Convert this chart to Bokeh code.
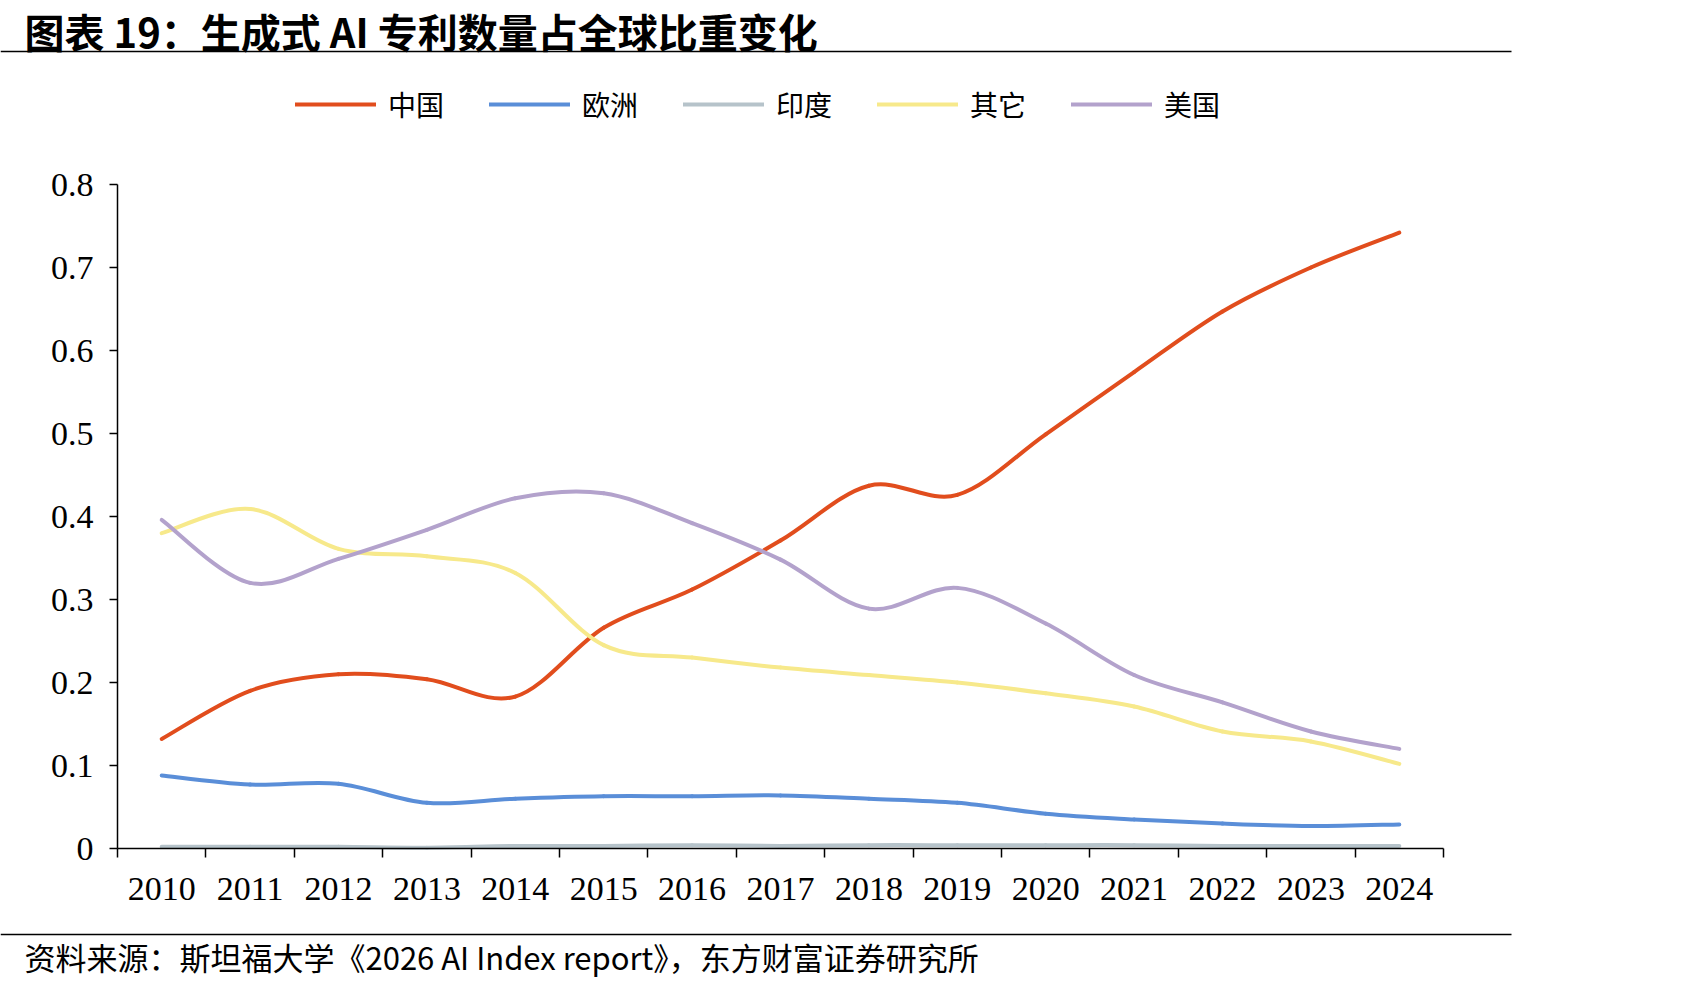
import numpy as np
from bokeh.plotting import figure
from bokeh.models import (Range1d, FixedTicker, LinearAxis, Legend, LegendItem,
                          NumeralTickFormatter, ColumnDataSource)
from bokeh.embed import file_html
from bokeh.resources import INLINE
from bokeh.core.properties import value

# ---------------- data ----------------
years = [2010, 2011, 2012, 2013, 2014, 2015, 2016, 2017, 2018, 2019, 2020, 2021, 2022, 2023, 2024]
china = [0.132, 0.190, 0.210, 0.204, 0.183, 0.266, 0.312, 0.371, 0.437, 0.426, 0.499, 0.574, 0.647, 0.700, 0.742]
europe = [0.088, 0.077, 0.078, 0.055, 0.060, 0.063, 0.063, 0.064, 0.060, 0.055, 0.042, 0.035, 0.030, 0.027, 0.029]
india = [0.002, 0.002, 0.002, 0.001, 0.003, 0.003, 0.004, 0.003, 0.004, 0.004, 0.004, 0.004, 0.003, 0.003, 0.003]
others = [0.380, 0.409, 0.361, 0.352, 0.332, 0.245, 0.230, 0.218, 0.209, 0.200, 0.187, 0.171, 0.141, 0.129, 0.102]
usa = [0.396, 0.320, 0.349, 0.384, 0.422, 0.428, 0.392, 0.348, 0.289, 0.314, 0.271, 0.209, 0.176, 0.141, 0.120]

series_names = ["中国", "欧洲", "印度", "其它", "美国"]
series_values = [china, europe, india, others, usa]
series_colors = ["#E14D1D", "#5A8ED8", "#B6C3CA", "#F7E98B", "#B3A2CC"]

y_ticks = [0, 0.1, 0.2, 0.3, 0.4, 0.5, 0.6, 0.7, 0.8]
x_labels = [str(y) for y in years]

title_text = "图表 19：生成式 AI 专利数量占全球比重变化"
source_text = "资料来源：斯坦福大学《2026 AI Index report》，东方财富证券研究所"

CJK = value("Noto Sans CJK SC")
SERIF = "Liberation Serif"

# ---------------- layout (pixels) ----------------
W, H = 1701, 988
AX_L, AX_R = 117, 1443      # x pixel of category-axis start / end
AX_TOP, AX_BOT = 184, 848   # y pixel of 0.8 / 0
X0, X1 = years[0] - 0.5, years[-1] + 0.5
Y0, Y1 = 0.0, 0.8
ux = (AX_R - AX_L) / (X1 - X0)
uy = (AX_BOT - AX_TOP) / (Y1 - Y0)
x_range = Range1d(X0 - AX_L / ux, X1 + (W - AX_R) / ux)
y_range = Range1d(Y0 - (H - AX_BOT) / uy, Y1 + AX_TOP / uy)

p = figure(width=W, height=H, x_range=x_range, y_range=y_range,
           toolbar_location=None, output_backend="svg",
           x_axis_type=None, y_axis_type=None, min_border=0)
p.min_border_left = p.min_border_right = p.min_border_top = p.min_border_bottom = 0
p.grid.visible = False
p.outline_line_color = None
p.background_fill_color = "#FFFFFF"
p.border_fill_color = "#FFFFFF"
p.extra_x_ranges = {"px": Range1d(0, W)}
p.extra_y_ranges = {"px": Range1d(H, 0)}


def smooth_segments(xs, ys):
    x = np.asarray(xs, dtype=float)
    y = np.asarray(ys, dtype=float)
    n = len(x)
    xp = np.concatenate([[x[0]], x, [x[-1]]])
    yp = np.concatenate([[y[0]], y, [y[-1]]])
    return dict(
        x0=x[:-1], y0=y[:-1], x1=x[1:], y1=y[1:],
        cx0=x[:-1] + (xp[2:n + 1] - xp[0:n - 1]) / 6.0,
        cy0=y[:-1] + (yp[2:n + 1] - yp[0:n - 1]) / 6.0,
        cx1=x[1:] - (xp[3:n + 2] - xp[1:n]) / 6.0,
        cy1=y[1:] - (yp[3:n + 2] - yp[1:n]) / 6.0,
    )


items = []
for name, vals, col in zip(series_names, series_values, series_colors):
    src = ColumnDataSource(smooth_segments(years, vals))
    r = p.bezier(x0="x0", y0="y0", x1="x1", y1="y1", cx0="cx0", cy0="cy0", cx1="cx1", cy1="cy1",
                 source=src, line_color=col, line_width=4, line_cap="round")
    items.append(LegendItem(label=name, renderers=[r]))

yaxis = LinearAxis(ticker=FixedTicker(ticks=y_ticks), formatter=NumeralTickFormatter(format="0.[0]"),
                   fixed_location=X0, bounds=(Y0, Y1),
                   axis_line_color="#000000", axis_line_width=1.5,
                   major_tick_line_color="#000000", major_tick_line_width=1.5,
                   major_tick_out=8, major_tick_in=0,
                   minor_tick_line_color=None,
                   major_label_standoff=16,
                   major_label_text_font=SERIF, major_label_text_font_size="34px",
                   major_label_text_color="#000000")
p.add_layout(yaxis, "left")

xaxis = LinearAxis(ticker=FixedTicker(ticks=years, minor_ticks=[y - 0.5 for y in years] + [years[-1] + 0.5]),
                   major_label_overrides={yr: lab for yr, lab in zip(years, x_labels)},
                   fixed_location=Y0, bounds=(X0, X1),
                   axis_line_color="#000000", axis_line_width=1.5,
                   major_tick_line_color=None, major_tick_out=0, major_tick_in=0,
                   minor_tick_line_color="#000000", minor_tick_line_width=1.5,
                   minor_tick_out=9, minor_tick_in=0,
                   major_label_standoff=20,
                   major_label_text_font=SERIF, major_label_text_font_size="34px",
                   major_label_text_color="#000000")
p.add_layout(xaxis, "below")

legend = Legend(items=items, orientation="horizontal", location=(295, H - 124),
                glyph_width=81, glyph_height=20, label_standoff=12, label_width=60,
                spacing=41, padding=0, margin=0, border_line_color=None,
                background_fill_alpha=0,
                label_text_font="Noto Sans CJK SC", label_text_font_size="28px",
                label_text_color="#000000")
p.add_layout(legend)

# ---------------- title, rules, source (pixel ranges) ----------------
p.text(x=[24], y=[30], text=[title_text], text_font=CJK, text_font_style="bold",
       text_font_size="40px", text_baseline="middle", text_align="left", text_color="#000000",
       x_range_name="px", y_range_name="px")
p.segment(x0=[0, 0], y0=[51, 934], x1=[1511, 1511], y1=[51, 934], line_color="#000000",
          line_width=1.5, x_range_name="px", y_range_name="px")
p.text(x=[24], y=[956], text=[source_text], text_font=CJK, text_font_size="31px",
       text_baseline="middle", text_align="left", text_color="#000000",
       x_range_name="px", y_range_name="px")

open("out.html", "w").write(file_html(p, INLINE))
